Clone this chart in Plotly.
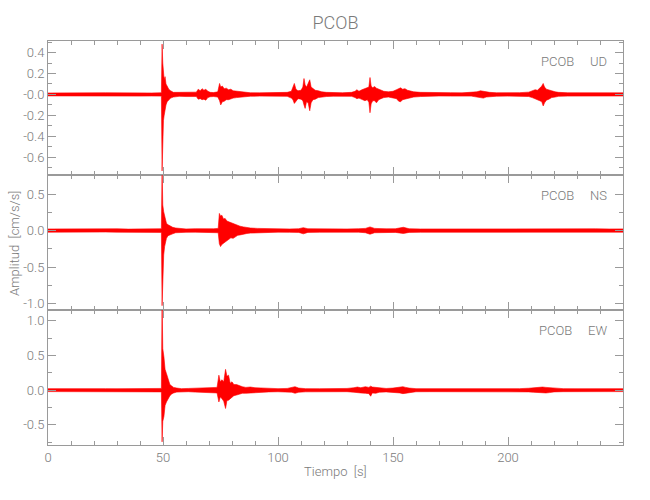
import plotly.graph_objects as go
from plotly.subplots import make_subplots

# ---------------- data (envelopes) ----------------
station = "PCOB"
components = ["UD", "NS", "EW"]

time_ud = [0, 5, 10, 15, 20, 25, 30, 35, 40, 45, 49.3, 49.6, 49.9, 50.2, 50.5, 50.9, 51.3, 51.8,
           52.5, 53.3, 54.5, 57, 60, 62.5, 64.5, 65.3, 66.2, 67, 67.8, 68.6, 69.5, 70.5, 72, 73.8,
           74.6, 75.1, 75.8, 76.6, 77.5, 78.5, 79.5, 80.5, 82, 84, 86, 88, 92, 96, 100, 104,
           105.8, 106.5, 107.1, 107.8, 108.7, 110, 110.8, 111.3, 111.8, 112.4, 113.1, 113.8, 114.4,
           115.2, 116.2, 117.5, 119, 121, 124, 128, 132, 133.5, 134.3, 135.2, 136.5, 137.8, 138.8,
           139.5, 140.0, 140.5, 141.2, 142, 142.8, 143.8, 144.8, 146, 148, 150, 151.5, 152.5, 153.3,
           154.2, 155.2, 156.3, 157.5, 159, 162, 166, 170, 175, 180, 184, 186.5, 188, 189.3, 190.5,
           192, 195, 200, 205, 209, 210.5, 211.8, 212.8, 213.8, 214.7, 215.3, 215.9, 216.7, 217.8,
           219, 220.5, 222, 226, 230, 235, 240, 245, 250]
upper_ud = [0.014, 0.016, 0.014, 0.017, 0.015, 0.016, 0.014, 0.016, 0.015, 0.014, 0.016, 0.48, 0.30, 0.20, 0.14, 0.17, 0.10, 0.08,
            0.05, 0.035, 0.02, 0.02, 0.018, 0.02, 0.022, 0.05, 0.035, 0.055, 0.04, 0.05, 0.03, 0.02, 0.018, 0.025,
            0.105, 0.07, 0.08, 0.055, 0.06, 0.045, 0.05, 0.035, 0.03, 0.028, 0.022, 0.016, 0.015, 0.018, 0.016, 0.02,
            0.03, 0.07, 0.105, 0.05, 0.035, 0.04, 0.07, 0.152, 0.09, 0.07, 0.10, 0.14, 0.07,
            0.06, 0.04, 0.035, 0.025, 0.02, 0.018, 0.016, 0.02, 0.03, 0.045, 0.03, 0.045, 0.055, 0.06,
            0.07, 0.162, 0.08, 0.065, 0.075, 0.06, 0.05, 0.04, 0.03, 0.025, 0.03, 0.045, 0.055, 0.063,
            0.05, 0.055, 0.04, 0.03, 0.025, 0.02, 0.017, 0.015, 0.017, 0.015, 0.018, 0.025, 0.035, 0.03, 0.03,
            0.02, 0.016, 0.015, 0.017, 0.022, 0.035, 0.045, 0.04, 0.06, 0.08, 0.105, 0.07, 0.05, 0.04,
            0.035, 0.025, 0.02, 0.016, 0.015, 0.017, 0.015, 0.016, 0.015]
lower_ud = [-0.014, -0.015, -0.016, -0.014, -0.015, -0.017, -0.015, -0.014, -0.016, -0.015, -0.016, -0.73, -0.28, -0.25, -0.20, -0.12, -0.10, -0.07,
            -0.05, -0.035, -0.025, -0.018, -0.02, -0.018, -0.02, -0.045, -0.04, -0.05, -0.045, -0.055, -0.03, -0.022, -0.02, -0.025,
            -0.06, -0.10, -0.07, -0.065, -0.05, -0.05, -0.04, -0.035, -0.03, -0.025, -0.022, -0.017, -0.016, -0.015, -0.017, -0.018,
            -0.035, -0.05, -0.086, -0.06, -0.04, -0.045, -0.06, -0.10, -0.133, -0.07, -0.08, -0.156, -0.08,
            -0.05, -0.045, -0.03, -0.025, -0.02, -0.017, -0.017, -0.018, -0.03, -0.04, -0.035, -0.05, -0.06, -0.05,
            -0.075, -0.175, -0.09, -0.06, -0.06, -0.08, -0.05, -0.04, -0.03, -0.025, -0.03, -0.04, -0.065, -0.07,
            -0.05, -0.045, -0.04, -0.03, -0.025, -0.02, -0.016, -0.015, -0.016, -0.017, -0.016, -0.025, -0.03, -0.035, -0.025,
            -0.02, -0.017, -0.016, -0.015, -0.02, -0.03, -0.04, -0.045, -0.06, -0.07, -0.11, -0.08, -0.055, -0.045,
            -0.03, -0.025, -0.018, -0.016, -0.016, -0.015, -0.016, -0.015, -0.015]

time_ns = [0, 5, 10, 15, 20, 25, 30, 35, 40, 45, 49.3, 49.6, 49.9, 50.3, 50.7, 51.1, 51.5, 52.2,
           53.1, 54.2, 55.5, 57, 60, 64, 68, 72, 74, 74.5, 75, 75.6, 76.3, 77, 77.8, 78.6, 79.5,
           80.5, 81.5, 82.5, 83.5, 85, 86.5, 88, 91, 95, 100, 105, 109, 111, 113, 118, 124, 130,
           135, 138, 140, 142, 147, 151, 154.5, 157, 162, 170, 178, 185, 193, 200, 210, 220, 226,
           232, 238, 244, 250]
upper_ns = [0.022, 0.024, 0.02, 0.023, 0.021, 0.022, 0.024, 0.02, 0.022, 0.023, 0.025, 0.86, 0.35, 0.258, 0.20, 0.15, 0.10, 0.08,
            0.06, 0.045, 0.035, 0.028, 0.022, 0.025, 0.022, 0.024, 0.03, 0.235, 0.20, 0.21, 0.16, 0.167, 0.13, 0.12, 0.11,
            0.098, 0.08, 0.07, 0.06, 0.05, 0.04, 0.035, 0.03, 0.026, 0.024, 0.022, 0.025, 0.04, 0.025, 0.022, 0.023, 0.022,
            0.025, 0.03, 0.05, 0.03, 0.024, 0.025, 0.045, 0.025, 0.022, 0.023, 0.025, 0.022, 0.024, 0.022, 0.023, 0.022, 0.025,
            0.022, 0.024, 0.022, 0.023]
lower_ns = [-0.022, -0.02, -0.023, -0.022, -0.024, -0.02, -0.022, -0.023, -0.021, -0.022, -0.025, -1.03, -0.50, -0.335, -0.22, -0.16, -0.107, -0.07,
            -0.055, -0.045, -0.03, -0.025, -0.024, -0.022, -0.025, -0.022, -0.03, -0.18, -0.22, -0.19, -0.176, -0.15, -0.14, -0.12, -0.10,
            -0.107, -0.085, -0.065, -0.06, -0.045, -0.04, -0.035, -0.03, -0.025, -0.022, -0.024, -0.025, -0.045, -0.025, -0.023, -0.021, -0.024,
            -0.022, -0.03, -0.05, -0.03, -0.022, -0.025, -0.04, -0.025, -0.023, -0.021, -0.022, -0.024, -0.022, -0.023, -0.022, -0.024, -0.023,
            -0.022, -0.023, -0.024, -0.022]

time_ew = [0, 5, 10, 15, 20, 25, 30, 35, 40, 45, 49.3, 49.6, 49.9, 50.4, 50.9, 51.5, 52.2, 53,
           53.8, 54.6, 56, 58, 61, 64, 66, 68, 70, 72, 73.5, 74.3, 74.9, 75.6, 76.4, 77.2, 77.8,
           78.5, 79.2, 80, 80.8, 82, 83.3, 84.5, 86, 88, 90, 93, 96, 100, 104, 106, 107.4, 109,
           112, 118, 124, 130, 133, 134.5, 136, 138, 139.5, 140.3, 141, 142.5, 144, 147, 150, 153,
           154.3, 155.5, 157, 160, 166, 172, 180, 188, 195, 200, 205, 209, 211, 213, 215, 216.5,
           218, 220, 224, 230, 236, 242, 250]
upper_ew = [0.022, 0.02, 0.022, 0.021, 0.02, 0.022, 0.021, 0.02, 0.022, 0.021, 0.025, 1.30, 0.60, 0.48, 0.30, 0.24, 0.15, 0.08,
            0.06, 0.04, 0.03, 0.022, 0.025, 0.03, 0.035, 0.03, 0.04, 0.035, 0.04, 0.216, 0.12, 0.15, 0.12, 0.30, 0.20,
            0.216, 0.10, 0.12, 0.08, 0.08, 0.06, 0.05, 0.04, 0.045, 0.035, 0.03, 0.025, 0.022, 0.025, 0.035, 0.05, 0.03,
            0.022, 0.021, 0.022, 0.025, 0.035, 0.045, 0.035, 0.05, 0.04, 0.058, 0.045, 0.04, 0.03, 0.025, 0.03, 0.045,
            0.05, 0.04, 0.03, 0.022, 0.021, 0.022, 0.021, 0.023, 0.022, 0.024, 0.022, 0.028, 0.035, 0.04, 0.045, 0.04,
            0.035, 0.028, 0.022, 0.021, 0.022, 0.021, 0.022]
lower_ew = [-0.021, -0.022, -0.02, -0.023, -0.021, -0.02, -0.022, -0.021, -0.02, -0.022, -0.025, -0.745, -0.45, -0.38, -0.22, -0.17, -0.12, -0.08,
            -0.055, -0.04, -0.028, -0.024, -0.022, -0.028, -0.03, -0.035, -0.035, -0.04, -0.04, -0.17, -0.10, -0.12, -0.16, -0.264, -0.15,
            -0.144, -0.12, -0.10, -0.08, -0.07, -0.06, -0.045, -0.045, -0.04, -0.035, -0.03, -0.025, -0.023, -0.025, -0.03, -0.045, -0.03,
            -0.024, -0.022, -0.021, -0.022, -0.03, -0.04, -0.04, -0.045, -0.05, -0.087, -0.04, -0.045, -0.03, -0.025, -0.028, -0.04,
            -0.05, -0.045, -0.03, -0.023, -0.022, -0.021, -0.022, -0.021, -0.022, -0.022, -0.023, -0.025, -0.03, -0.035, -0.045, -0.04,
            -0.035, -0.025, -0.022, -0.022, -0.021, -0.022, -0.021]

x_tickvals = [0, 50, 100, 150, 200]
x_ticktext = ["0", "50", "100", "150", "200"]
y_tickvals_ud = [0.4, 0.2, 0.0, -0.2, -0.4, -0.6]
y_ticktext_ud = ["0.4", "0.2", "-0.0", "-0.2", "-0.4", "-0.6"]
y_tickvals_ns = [0.5, 0.0, -0.5, -1.0]
y_ticktext_ns = ["0.5", "0.0", "-0.5", "-1.0"]
y_tickvals_ew = [1.0, 0.5, 0.0, -0.5]
y_ticktext_ew = ["1.0", "0.5", "0.0", "-0.5"]

# ---------------- figure ----------------
FONT = "Roboto, Liberation Sans, DejaVu Sans, sans-serif"
GRAY = "#7a7a7a"
AXC = "#9a9a9a"
RED = "#ff0000"

fig = make_subplots(rows=3, cols=1, shared_xaxes=True, vertical_spacing=0)

series = [(time_ud, upper_ud, lower_ud), (time_ns, upper_ns, lower_ns), (time_ew, upper_ew, lower_ew)]
for i, (t, up, lo) in enumerate(series, start=1):
    fig.add_trace(go.Scatter(x=t, y=up, mode="lines", line=dict(color=RED, width=0.6),
                             showlegend=False, hoverinfo="skip"), row=i, col=1)
    fig.add_trace(go.Scatter(x=t, y=lo, mode="lines", line=dict(color=RED, width=0.6),
                             fill="tonexty", fillcolor=RED,
                             showlegend=False, hoverinfo="skip"), row=i, col=1)

tickfont = dict(family=FONT, size=13, color=GRAY, weight=300)
common_axis = dict(showline=True, linecolor=AXC, linewidth=1, mirror="ticks",
                   ticks="inside", tickcolor=AXC, tickwidth=1, ticklen=8,
                   showgrid=False, zeroline=False, automargin=False,
                   tickfont=tickfont)

for i in range(1, 4):
    fig.update_xaxes(common_axis, row=i, col=1, range=[0, 250], tickmode="array",
                     tickvals=x_tickvals, ticktext=x_ticktext,
                     minor=dict(ticks="inside", ticklen=4, tickcolor=AXC, dtick=10, tick0=0),
                     showticklabels=(i == 3))

fig.update_yaxes(common_axis, row=1, col=1, range=[-0.77, 0.51], tickmode="array",
                 tickvals=y_tickvals_ud, ticktext=y_ticktext_ud, domain=[0.668, 1.0],
                 minor=dict(ticks="inside", ticklen=4, tickcolor=AXC, dtick=0.1, tick0=0))
fig.update_yaxes(common_axis, row=2, col=1, range=[-1.09, 0.76], tickmode="array",
                 tickvals=y_tickvals_ns, ticktext=y_ticktext_ns, domain=[0.334, 0.668],
                 minor=dict(ticks="inside", ticklen=4, tickcolor=AXC, dtick=0.25, tick0=0))
fig.update_yaxes(common_axis, row=3, col=1, range=[-0.79, 1.154], tickmode="array",
                 tickvals=y_tickvals_ew, ticktext=y_ticktext_ew, domain=[0.0, 0.334],
                 minor=dict(ticks="inside", ticklen=4, tickcolor=AXC, dtick=0.25, tick0=0))

labfont = dict(family=FONT, size=13, color=GRAY, weight=300)
annotations = []
for i, comp in enumerate(components, start=1):
    yref = "y domain" if i == 1 else f"y{i} domain"
    xref = "x domain" if i == 1 else f"x{i} domain"
    annotations.append(dict(text=f"{station}&nbsp;&nbsp;&nbsp;&nbsp;&nbsp;{comp}", xref=xref, yref=yref,
                            x=0.975, y=0.85, xanchor="right", yanchor="middle", showarrow=False,
                            font=labfont))
annotations.append(dict(text="Amplitud  [cm/s/s]", xref="paper", yref="paper",
                        x=-0.059, y=0.5, textangle=-90, xanchor="center", yanchor="middle",
                        showarrow=False, font=labfont))
annotations.append(dict(text="Tiempo  [s]", xref="paper", yref="paper",
                        x=0.5, y=-0.066, xanchor="center", yanchor="middle",
                        showarrow=False, font=labfont))

fig.update_layout(
    width=650, height=500,
    margin=dict(l=48, r=27, t=41, b=55),
    paper_bgcolor="white", plot_bgcolor="white",
    title=dict(text=station, x=0.5, xref="paper", y=1 - 23 / 500, yref="container",
               xanchor="center", yanchor="middle",
               font=dict(family=FONT, size=18, color=GRAY, weight=300)),
    annotations=annotations,
    showlegend=False,
)

fig.write_html("out.html", config={"displayModeBar": False},
               post_script="document.body.style.margin='0';")
